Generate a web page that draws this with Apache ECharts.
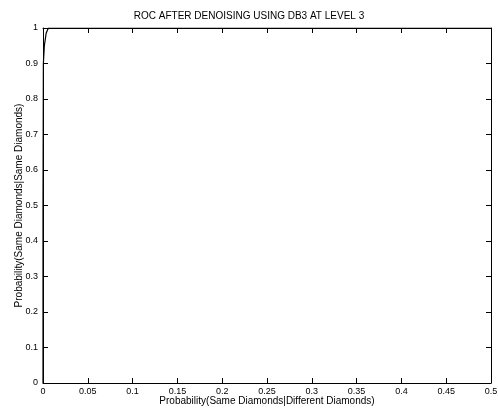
<!DOCTYPE html>
<html>
<head>
<meta charset="utf-8">
<script src="https://cdn.jsdelivr.net/npm/echarts@6/dist/echarts.min.js"></script>
<style>
  html, body { margin: 0; padding: 0; background: #fff; }
  #chart { width: 498px; height: 408px; }
</style>
</head>
<body>
<div id="chart"></div>
<script>
// ROC curve points [P(same|different), P(same|same)]
const falseRate = [0, 0, 0.0004, 0.0015, 0.0035, 0.006, 0.05, 0.2, 0.35, 0.5];
const trueRate = [0, 0.5, 0.9, 0.95, 0.985, 1, 1, 1, 1, 1];

const titleText = 'ROC AFTER DENOISING USING DB3 AT LEVEL 3';
const xName = 'Probability(Same Diamonds|Different Diamonds)';
const yName = 'Probability(Same Diamonds|Same Diamonds)';

const chart = echarts.init(document.getElementById('chart'));

const font = 'Liberation Sans, Arial, sans-serif';
const axisCommon = {
  type: 'value',
  axisLine: { show: true, onZero: false, lineStyle: { color: '#000', width: 1 } },
  axisTick: { show: true, inside: true, length: 5, lineStyle: { color: '#000', width: 1 } },
  splitLine: { show: false }
};

const option = {
  animation: false,
  backgroundColor: '#fff',
  title: {
    text: titleText,
    left: 'center',
    top: 6,
    textStyle: { fontFamily: font, fontSize: 10, fontWeight: 'normal', color: '#000' }
  },
  grid: { left: 43, right: 7, top: 28, bottom: 25, outerBoundsMode: 'none', containLabel: false },
  xAxis: [
    Object.assign({}, axisCommon, {
      position: 'bottom',
      min: 0, max: 0.5, interval: 0.05,
      name: xName,
      nameLocation: 'middle',
      nameGap: 13,
      nameMoveOverlap: false,
      nameTextStyle: { fontFamily: font, fontSize: 10, color: '#000' },
      axisLabel: { fontFamily: font, fontSize: 9, color: '#000', margin: 4 }
    }),
    Object.assign({}, axisCommon, {
      position: 'top',
      min: 0, max: 0.5, interval: 0.05,
      axisLabel: { show: false }
    })
  ],
  yAxis: [
    Object.assign({}, axisCommon, {
      position: 'left',
      min: 0, max: 1, interval: 0.1,
      name: yName,
      nameLocation: 'middle',
      nameGap: 19,
      nameMoveOverlap: false,
      nameTextStyle: { fontFamily: font, fontSize: 10, color: '#000' },
      axisLabel: { fontFamily: font, fontSize: 9, color: '#000', margin: 5 }
    }),
    Object.assign({}, axisCommon, {
      position: 'right',
      min: 0, max: 1, interval: 0.1,
      axisLabel: { show: false }
    })
  ],
  series: [
    {
      type: 'line',
      xAxisIndex: 0,
      yAxisIndex: 0,
      showSymbol: false,
      lineStyle: { color: '#000', width: 1.2 },
      data: falseRate.map((x, i) => [x, trueRate[i]])
    }
  ]
};

chart.setOption(option);
</script>
</body>
</html>
